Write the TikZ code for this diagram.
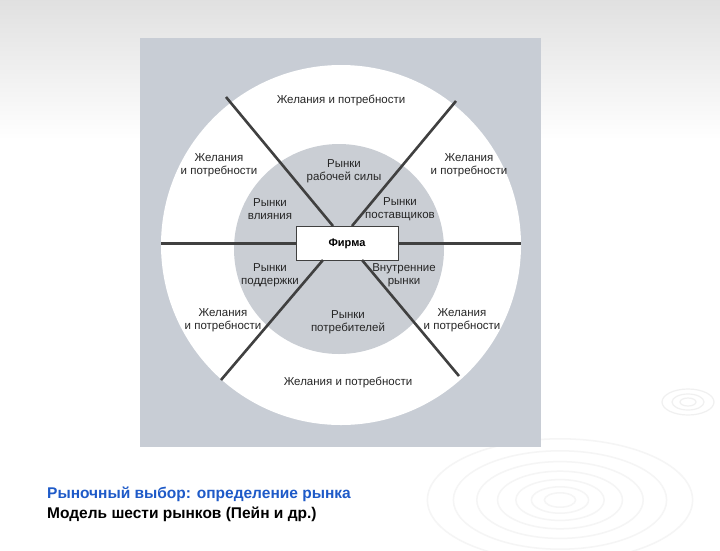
\documentclass[tikz,border=0pt]{standalone}
\usepackage{fontspec}
\setmainfont{Liberation Sans}
\begin{document}
\begin{tikzpicture}[x=1pt,y=-1pt,
  sep/.style={line width=2.6pt,color=black!75},
  lbl/.style={font=\fontsize{11.5}{12.5}\selectfont,align=center,text=black!85,inner sep=1pt}]
\useasboundingbox (0,0) rectangle (720,550);
\shade[top color=black!12,bottom color=white] (0,0) rectangle (720,140);
\fill[white] (0,140) rectangle (720,550);
\foreach \r in {12,22,34,48,64,82,102}{\draw[black!4,line width=1.5pt] (560,500) ellipse ({\r*1.3} and {\r*0.6});}
\foreach \r in {8,16,26}{\draw[black!6,line width=1.2pt] (688,402) ellipse ({\r} and {\r*0.5});}
\fill[fill={rgb,255:red,200;green,205;blue,213}] (140,38) rectangle (541,447);
\fill[white] (341,245) circle (180);
\fill[fill={rgb,255:red,202;green,206;blue,212}] (339,249) circle (105);
\node[draw=black!75,line width=1pt,fill=white,minimum width=102pt,minimum height=34pt,inner sep=0pt,font=\fontsize{11}{12}\selectfont\bfseries] (f) at (347,243.5) {Фирма};
\coordinate (tl) at (226,97); \coordinate (tla) at (333,226);
\coordinate (tr) at (456,101); \coordinate (tra) at (352,226);
\coordinate (bl) at (221,380); \coordinate (bla) at (323,260);
\coordinate (br) at (459,376); \coordinate (bra) at (362,260);
\coordinate (hl) at (161,243.5); \coordinate (hr) at (521,243.5);
\draw[sep] (tl) -- (tla); \draw[sep] (tr) -- (tra);
\draw[sep] (bl) -- (bla); \draw[sep] (br) -- (bra);
\draw[sep] (hl) -- (f.west); \draw[sep] (f.east) -- (hr);
\node[lbl] (w1) at (341,100) {Желания и потребности};
\node[lbl] (w2) at (219,165) {Желания\\ и потребности};
\node[lbl] (w3) at (469,165) {Желания\\ и потребности};
\node[lbl] (w4) at (223,320) {Желания\\ и потребности};
\node[lbl] (w5) at (462,320) {Желания\\ и потребности};
\node[lbl] (w6) at (348,382) {Желания и потребности};
\node[lbl] (m1) at (344,171) {Рынки\\ рабочей силы};
\node[lbl] (m2) at (270,209) {Рынки\\ влияния};
\node[lbl] (m3) at (400,209) {Рынки\\ поставщиков};
\node[lbl] (m4) at (270,275) {Рынки\\ поддержки};
\node[lbl] (m5) at (404,275) {Внутренние\\ рынки};
\node[lbl] (m6) at (348,322) {Рынки\\ потребителей};
\node[anchor=west,inner sep=0pt,font=\fontsize{15.5}{17}\selectfont\bfseries,text={rgb,255:red,30;green,90;blue,200}] (c1) at (47,494) {Рыночный выбор: определение рынка};
\node[anchor=west,inner sep=0pt,font=\fontsize{15.5}{17}\selectfont\bfseries] (c2) at (47,514) {Модель шести рынков (Пейн и др.)};
\end{tikzpicture}
\end{document}
